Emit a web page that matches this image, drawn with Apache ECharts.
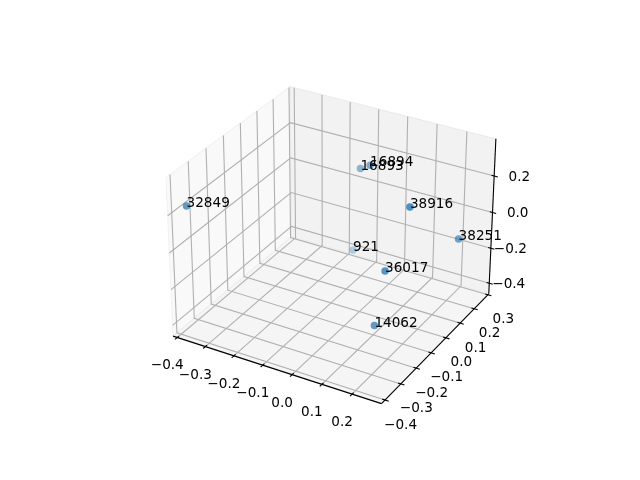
<!DOCTYPE html>
<html><head><meta charset="utf-8">
<style>html,body{margin:0;padding:0;background:#fff}#c{width:640px;height:480px}</style>
<script src="https://cdn.jsdelivr.net/npm/echarts@6/dist/echarts.min.js"></script>
</head><body><div id="c"></div>
<script>
// Data
const pointLabels = ['32849','16893','16894','38916','38251','921','36017','14062'];
const xValues = [-0.3885,-0.1033,-0.0415,0.2478,0.2853,-0.1429,0.1927,0.1685];
const yValues = [-0.3593,0.1955,0.1406,-0.1681,0.0894,0.2252,-0.2093,-0.2252];
const zValues = [0.2172,0.1491,0.2306,0.3547,0.0120,-0.3518,0.0257,-0.2692];
const xTicks = [-0.4,-0.3,-0.2,-0.1,0.0,0.1,0.2];
const yTicks = [-0.4,-0.3,-0.2,-0.1,0.0,0.1,0.2,0.3];
const zTicks = [-0.4,-0.2,0.0,0.2];
const xLim = [-0.415,0.296], yLim = [-0.422,0.307], zLim = [-0.461,0.400];

// Box geometry and view (elev 30, azim -60, dist 10)
const boxX = [-0.585,0.583], boxY = [-0.51,0.625], boxZ = [-0.446,0.438];
const U = [0.8660254,0.5,0], V = [-0.25,0.4330127,0.8660254], N = [0.4330127,-0.75,0.5];
const DIST = 10, VIEW = 0.09;
const dot = (a,b)=>a[0]*b[0]+a[1]*b[1]+a[2]*b[2];
const toBox = (v,lim,box)=>box[0]+(v-lim[0])/(lim[1]-lim[0])*(box[1]-box[0]);
const boxProject = p=>{const d=DIST-dot(N,p);return [dot(U,p)/d,dot(V,p)/d,d];};
const world = (x,y,z)=>[toBox(x,xLim,boxX),toBox(y,yLim,boxY),toBox(z,zLim,boxZ)];
const proj = (x,y,z)=>boxProject(world(x,y,z));
const [x0,x1]=xLim,[y0,y1]=yLim,[z0,z1]=zLim;

const panes = [
 {c:'#f9f9f9',e:'#f2f2f2',pts:[[x0,y0,z0],[x0,y1,z0],[x0,y1,z1],[x0,y0,z1]]},
 {c:'#f2f2f2',e:'#ebebeb',pts:[[x0,y1,z0],[x1,y1,z0],[x1,y1,z1],[x0,y1,z1]]},
 {c:'#f5f5f5',e:'#eeeeee',pts:[[x0,y0,z0],[x1,y0,z0],[x1,y1,z0],[x0,y1,z0]]}
];
const GRID='#b0b0b0';
const lines=[];
xTicks.forEach(t=>lines.push({c:GRID,pts:[[t,y0,z0],[t,y1,z0],[t,y1,z1]]}));
yTicks.forEach(t=>lines.push({c:GRID,pts:[[x0,t,z1],[x0,t,z0],[x1,t,z0]]}));
zTicks.forEach(t=>lines.push({c:GRID,pts:[[x0,y0,t],[x0,y1,t],[x1,y1,t]]}));
lines.push({c:'#000',pts:[[x0,y0,z0],[x1,y0,z0]]});
lines.push({c:'#000',pts:[[x1,y0,z0],[x1,y1,z0]]});
lines.push({c:'#000',pts:[[x1,y1,z0],[x1,y1,z1]]});
const IN=0.015,OUT=0.02;
const dxW=(x1-x0)/(boxX[1]-boxX[0]), dyW=(y1-y0)/(boxY[1]-boxY[0]);
xTicks.forEach(t=>lines.push({c:'#000',pts:[[t,y0+IN*dyW,z0],[t,y0-OUT*dyW,z0]]}));
yTicks.forEach(t=>lines.push({c:'#000',pts:[[x1-IN*dxW,t,z0],[x1+OUT*dxW,t,z0]]}));
zTicks.forEach(t=>lines.push({c:'#000',pts:[[x1-IN*dxW,y1,t],[x1+OUT*dxW,y1,t]]}));

const fmt=t=>(t<0?'\u2212':'')+Math.abs(t).toFixed(1);
const texts=[];
xTicks.forEach(t=>texts.push({s:fmt(t),at:[t,y0,z0],dx:-10,dy:28.4,a:'center'}));
yTicks.forEach(t=>texts.push({s:fmt(t),at:[x1,t,z0],dx:15.5,dy:25,a:'center'}));
zTicks.forEach(t=>texts.push({s:fmt(t),at:[x1,y1,t],dx:36,dy:1,a:'right'}));

const FONT='13.6px "DejaVu Sans"';
const idx=a=>a.map((_,i)=>[i,0]);
const scat=pointLabels.map((n,i)=>{const q=proj(xValues[i],yValues[i],zValues[i]);return {n,q};});
const ds=scat.map(o=>o.q[2]);const dmin=Math.min(...ds),dmax=Math.max(...ds);
const alphaOf=d=>{const a=1-0.7*(d-dmin)/(dmax-dmin);return 1-(1-a)*(1-a*0.5);};
const scatterData=scat.map(o=>({name:o.n,value:[o.q[0],o.q[1]],
  itemStyle:{color:'rgba(31,119,180,'+alphaOf(o.q[2]).toFixed(3)+')'}}));

const option={
 animation:false,backgroundColor:'#fff',
 grid:{left:143.2,top:57.6,width:369.6,height:369.6},
 xAxis:{type:'value',min:-VIEW,max:VIEW,show:false},
 yAxis:{type:'value',min:-VIEW,max:VIEW,show:false},
 series:[
  {type:'custom',clip:false,silent:true,z:1,data:idx(panes),renderItem:(p,api)=>{
    const o=panes[p.dataIndex];
    return {type:'polygon',shape:{points:o.pts.map(q=>{const r=proj(...q);return api.coord([r[0],r[1]]);})},
      style:{fill:o.c,stroke:o.e,lineWidth:1.1}};}},
  {type:'custom',clip:false,silent:true,z:2,data:idx(lines),renderItem:(p,api)=>{
    const o=lines[p.dataIndex];
    return {type:'polyline',shape:{points:o.pts.map(q=>{const r=proj(...q);return api.coord([r[0],r[1]]);})},
      style:{fill:'none',stroke:o.c,lineWidth:1.1}};}},
  {type:'custom',clip:false,silent:true,z:3,data:idx(texts),renderItem:(p,api)=>{
    const o=texts[p.dataIndex];const r=proj(...o.at);const c=api.coord([r[0],r[1]]);
    return {type:'text',style:{text:o.s,x:c[0]+o.dx,y:c[1]+o.dy,font:FONT,fill:'#000',align:o.a,verticalAlign:'middle'}};}},
  {type:'scatter',clip:false,silent:true,z:4,symbol:'circle',symbolSize:7.5,
   itemStyle:{color:'#1f77b4'},data:scatterData,
   label:{show:true,position:'right',distance:0,offset:[-3.75,-2.5],opacity:1,formatter:'{b}',color:'#000000',fontFamily:'DejaVu Sans',fontSize:13.6,textBorderWidth:0}}
 ]
};
echarts.init(document.getElementById('c'),null,{renderer:'canvas'}).setOption(option);
</script></body></html>
